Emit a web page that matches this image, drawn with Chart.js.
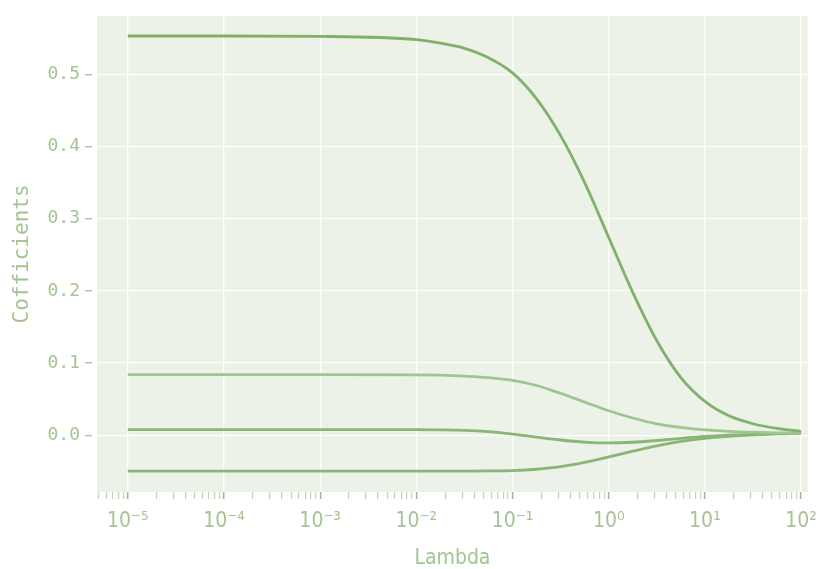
<!DOCTYPE html>
<html>
<head>
<meta charset="utf-8">
<script src="https://cdn.jsdelivr.net/npm/chart.js@4.4.1/dist/chart.umd.min.js"></script>
<style>
  html, body { margin: 0; padding: 0; background: #ffffff; }
  #wrap { width: 823px; height: 569px; }
</style>
</head>
<body>
<div id="wrap"><canvas id="chart" width="823" height="569"></canvas></div>
<script>
const lambdaExp = [-5, -4, -3, -2, -1.75, -1.5, -1.25, -1, -0.75, -0.5, -0.25, 0, 0.25, 0.5, 0.75, 1, 1.25, 1.5, 1.75, 2];

const coef1 = [0.553, 0.553, 0.5525, 0.548, 0.543, 0.536, 0.523, 0.502, 0.466, 0.415, 0.350, 0.274, 0.198, 0.131, 0.080, 0.047, 0.027, 0.016, 0.0095, 0.0055];
const coef2 = [0.084, 0.084, 0.084, 0.0838, 0.0833, 0.082, 0.080, 0.076, 0.069, 0.058, 0.046, 0.034, 0.024, 0.016, 0.011, 0.0075, 0.0055, 0.0043, 0.0035, 0.003];
const coef3 = [0.0079, 0.0079, 0.0079, 0.0078, 0.0075, 0.0068, 0.005, 0.0018, -0.0025, -0.0065, -0.0093, -0.0105, -0.0096, -0.0072, -0.0042, -0.0015, 0.0004, 0.0017, 0.0025, 0.003];
const coef4 = [-0.0496, -0.0496, -0.0496, -0.0496, -0.0496, -0.0495, -0.0493, -0.0488, -0.047, -0.0435, -0.0375, -0.030, -0.022, -0.0145, -0.0085, -0.0043, -0.0015, 0.0005, 0.002, 0.0027];

const xTickExps = [-5, -4, -3, -2, -1, 0, 1, 2];
const xTickText = ['10⁻⁵', '10⁻⁴', '10⁻³', '10⁻²', '10⁻¹', '10⁰', '10¹', '10²'];
const yTicks = [0.0, 0.1, 0.2, 0.3, 0.4, 0.5];

const textColor = '#a3c494';
const plotBg = '#ecf2e8';

const toPoints = (vals) => vals.map((v, i) => ({ x: Math.pow(10, lambdaExp[i]), y: v }));

// minor + major tick positions on the log axis
const xMinorTicks = [];
for (let e = -6; e <= 2; e++) {
    for (let m = 1; m <= 9; m++) {
        const v = m * Math.pow(10, e);
        if (v >= 4.7e-6 && v <= 100.5) xMinorTicks.push(v);
    }
}

const isDecade = (v) => Math.abs(Math.log10(v) - Math.round(Math.log10(v))) < 1e-6;

//차트 영역 배경색 칠하기
const plotBackground = {
    id: 'plotBackground',
    beforeDraw: (chart) => {
        const { ctx, chartArea } = chart;
        ctx.save();
        ctx.fillStyle = plotBg;
        ctx.fillRect(chartArea.left, chartArea.top, chartArea.right - chartArea.left, chartArea.bottom - chartArea.top);
        ctx.restore();
    }
};

const lineStyle = (color) => ({
    borderColor: color,
    backgroundColor: color,
    borderWidth: 2.8,
    pointRadius: 0,
    cubicInterpolationMode: 'monotone',
    fill: false
});

new Chart(document.getElementById('chart'), {
    type: 'line',
    data: {
        datasets: [
            { data: toPoints(coef1), ...lineStyle('#80b16c') },
            { data: toPoints(coef2), ...lineStyle('#a0c690') },
            { data: toPoints(coef3), ...lineStyle('#88b674') },
            { data: toPoints(coef4), ...lineStyle('#88b674') }
        ]
    },
    options: {
        responsive: false,
        animation: false,
        layout: { padding: { left: 0, right: 11, top: 11, bottom: 0 } },
        plugins: {
            legend: { display: false },
            tooltip: { enabled: false }
        },
        scales: {
            x: {
                type: 'logarithmic',
                min: Math.pow(10, -5.32),
                max: Math.pow(10, 2.07),
                afterBuildTicks: (scale) => {
                    scale.ticks = xMinorTicks.map(v => ({ value: v }));
                },
                afterFit: (scale) => { scale.height = 77; },
                ticks: {
                    autoSkip: false,
                    maxRotation: 0,
                    padding: 6,
                    color: textColor,
                    font: { family: 'DejaVu Sans Condensed, Liberation Sans Narrow, sans-serif', size: 21 },
                    callback: (v) => {
                        if (!isDecade(v)) return '';
                        const idx = xTickExps.indexOf(Math.round(Math.log10(v)));
                        return idx >= 0 ? xTickText[idx] : '';
                    }
                },
                grid: {
                    color: (c) => (c.tick && isDecade(c.tick.value)) ? '#ffffff' : 'rgba(0,0,0,0)',
                    lineWidth: 1.3,
                    tickColor: (c) => (c.tick && isDecade(c.tick.value)) ? '#9cbf8c' : '#b9d3ad',
                    tickWidth: (c) => (c.tick && isDecade(c.tick.value)) ? 1.6 : 1.1,
                    tickLength: 11,
                    tickBorderDash: [7, 4]
                },
                border: { display: false },
                title: {
                    display: true,
                    text: 'Lambda',
                    color: textColor,
                    font: { family: 'DejaVu Sans Condensed, Liberation Sans Narrow, sans-serif', size: 21, lineHeight: 1 },
                    padding: { top: 0, bottom: 0 }
                }
            },
            y: {
                min: -0.0785,
                max: 0.581,
                afterBuildTicks: (scale) => {
                    scale.ticks = yTicks.map(v => ({ value: v }));
                },
                afterFit: (scale) => { scale.width = 97; },
                ticks: {
                    padding: 5,
                    color: textColor,
                    font: { family: 'DejaVu Sans Mono, monospace', size: 18 },
                    callback: (v) => v.toFixed(1)
                },
                grid: {
                    color: '#ffffff',
                    lineWidth: 1.3,
                    tickColor: '#a8c79a',
                    tickLength: 12,
                    tickWidth: 1.4,
                    tickBorderDash: [7, 5]
                },
                border: { display: false },
                title: {
                    display: true,
                    text: 'Cofficients',
                    color: textColor,
                    font: { family: 'DejaVu Sans Mono, monospace', size: 21, lineHeight: 1 },
                    padding: { top: 12, bottom: 0 }
                }
            }
        }
    },
    plugins: [plotBackground]
});
</script>
</body>
</html>
